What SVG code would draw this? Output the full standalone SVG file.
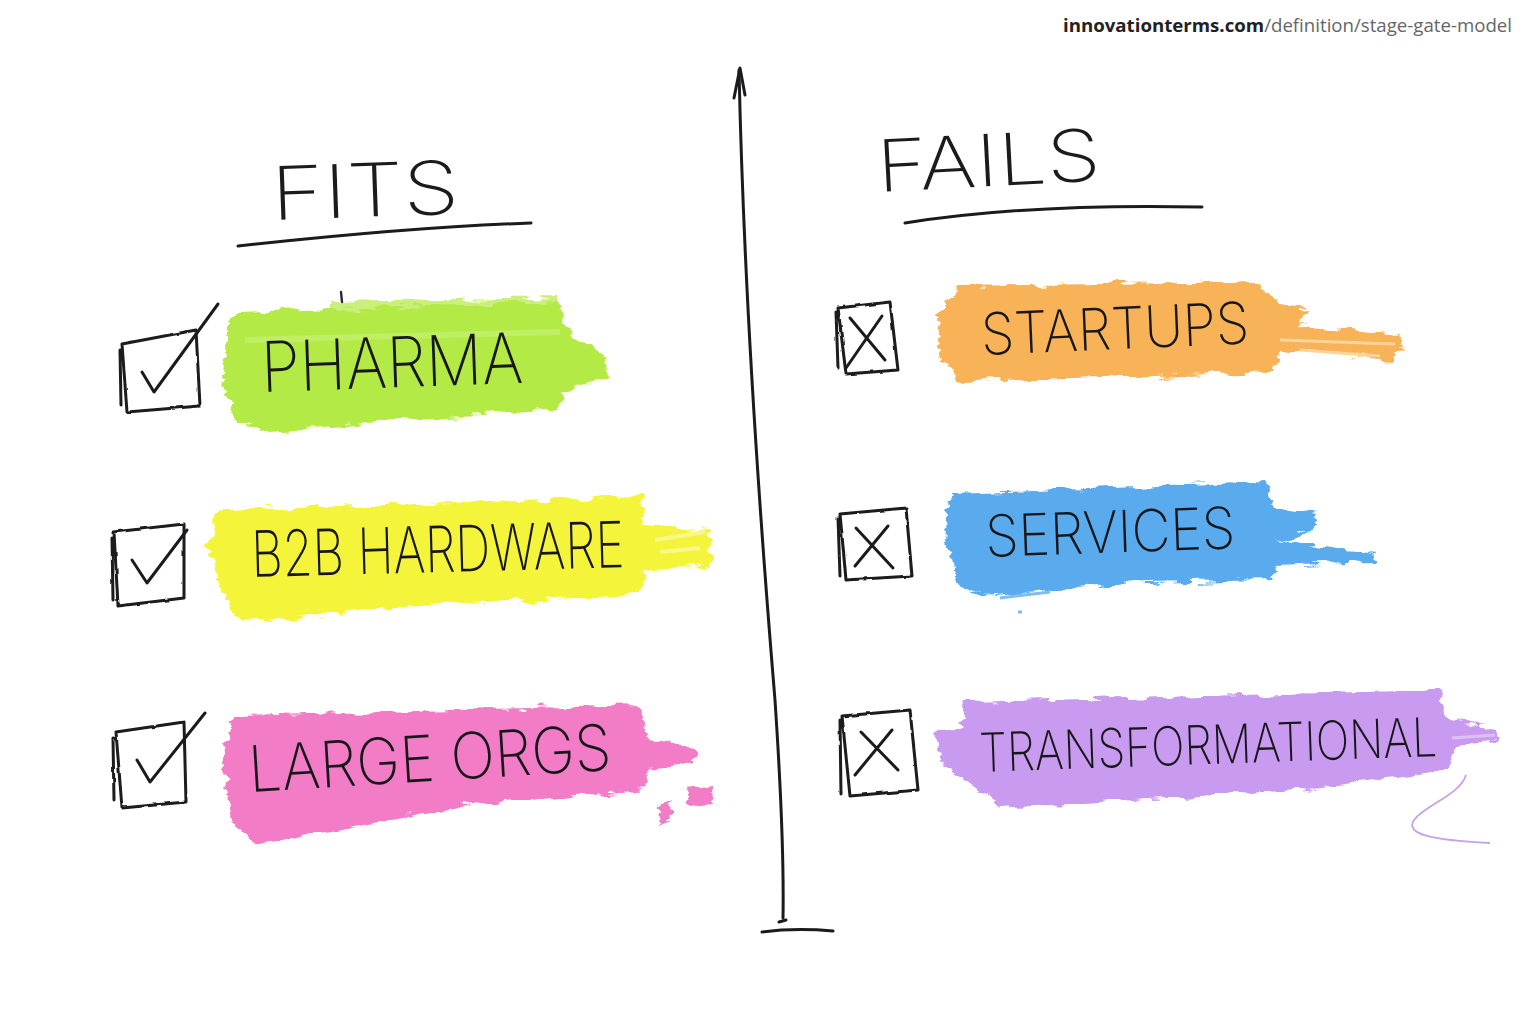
<svg xmlns="http://www.w3.org/2000/svg" width="1536" height="1024" viewBox="0 0 1536 1024">
<defs>
<filter id="rough" x="-10%" y="-20%" width="120%" height="140%">
<feTurbulence type="fractalNoise" baseFrequency="0.04 0.12" numOctaves="3" seed="4" result="n"/>
<feDisplacementMap in="SourceGraphic" in2="n" scale="14" xChannelSelector="R" yChannelSelector="G"/>
</filter>
<filter id="pen" x="-5%" y="-5%" width="110%" height="110%">
<feTurbulence type="fractalNoise" baseFrequency="0.08" numOctaves="2" seed="2" result="n"/>
<feDisplacementMap in="SourceGraphic" in2="n" scale="2.5" xChannelSelector="R" yChannelSelector="G"/>
</filter>
</defs>
<style>
.ink{fill:none;stroke:#1b1b1e;stroke-width:3;stroke-linecap:round;stroke-linejoin:round}
.thin{fill:none;stroke:#2a2a2e;stroke-width:2.4;stroke-linecap:round;stroke-linejoin:round}
.lbl{font-family:Inter,"Open Sans","DejaVu Sans",sans-serif;font-weight:200;fill:#17171a}
.head{font-family:Inter,"Open Sans","DejaVu Sans",sans-serif;font-weight:200;fill:#1b1b1e}
</style>
<rect width="1536" height="1024" fill="#ffffff"/>

<text x="1063" y="32" textLength="449" lengthAdjust="spacingAndGlyphs" font-family="'Open Sans','Noto Sans',sans-serif" font-size="18"><tspan font-weight="700" fill="#222">innovationterms.com</tspan><tspan fill="#666">/definition/stage-gate-model</tspan></text>

<g id="divider">
<path class="ink" d="M739 70 C744 300 760 520 775 700 C781 790 784 860 783 918" stroke-width="2.4"/>
<path class="ink" d="M734 98 L740 68 L745 95" stroke-width="2.2"/>
<path class="ink" d="M762 932 C785 929 810 929 833 931" stroke-width="2.4"/>
<path class="ink" d="M779 922 L786 920" stroke-width="2"/>
</g>

<g id="fits-heading">
<text class="head" x="272" y="220" font-size="74" textLength="188" lengthAdjust="spacingAndGlyphs" transform="rotate(-2 272 220)">FITS</text>
<path class="ink" d="M238 246 C330 236 440 226 531 223" stroke-width="3"/>
</g>

<g id="fails-heading">
<text class="head" x="878" y="192" font-size="72" textLength="224" lengthAdjust="spacingAndGlyphs" transform="rotate(-3 878 192)">FAILS</text>
<path class="ink" d="M905 223 C1000 208 1110 205 1202 207" stroke-width="3"/>
</g>

<g id="pharma">
<g filter="url(#rough)" fill="#b3ea45">
<path d="M236 312 L560 302 L566 330 L608 360 L610 378 L565 390 L560 410 L400 420 L270 432 L236 420 L222 380 L228 330 Z"/>
<path d="M330 302 L560 298 L562 312 L330 316 Z" opacity="0.7"/>
</g>
<path d="M245 340 L560 332" stroke="#c9f27a" stroke-width="6" opacity="0.6"/>
<path class="thin" d="M341 292 L342 302" stroke-width="1.5"/>
<path class="ink" d="M122 344 L196 330 L200 406 L127 412 Z M120 350 L121 405" filter="url(#pen)"/>
<path class="ink" d="M142 372 L154 392 L218 304" stroke-width="3.2"/>
<text class="lbl" x="262" y="392" font-size="70" textLength="262" lengthAdjust="spacingAndGlyphs" transform="rotate(-2 262 392)">PHARMA</text>
</g>

<g id="b2b-hardware">
<g filter="url(#rough)" fill="#f4f53a">
<path d="M228 510 L640 497 L645 525 L708 530 L712 565 L645 572 L640 595 L420 605 L245 622 L225 600 L208 545 L218 515 Z"/>
</g>
<path d="M655 540 L705 532 M660 552 L700 548" stroke="#f8f88a" stroke-width="4"/>
<path class="ink" d="M114 532 L184 524 L184 598 L118 606 Z M112 538 L113 600" filter="url(#pen)"/>
<path class="ink" d="M132 560 L147 583 L187 530" stroke-width="3.2"/>
<text class="lbl" x="252" y="577" font-size="64" textLength="373" lengthAdjust="spacingAndGlyphs" transform="rotate(-1.5 252 577)">B2B  HARDWARE</text>
</g>

<g id="large-orgs">
<g filter="url(#rough)" fill="#f37cc6">
<path d="M238 716 L640 705 L648 740 L695 748 L695 762 L648 768 L645 790 L470 805 L255 845 L232 820 L222 760 L230 730 Z"/>
<path d="M684 790 L715 786 L716 804 L690 808 Z"/>
<path d="M660 808 L672 800 L670 822 L659 826 Z"/>
</g>
<path class="ink" d="M116 732 L184 722 L186 802 L122 808 Z M113 738 L114 800" filter="url(#pen)"/>
<path class="ink" d="M137 760 L150 782 L205 713" stroke-width="3.2"/>
<text class="lbl" x="250" y="792" font-size="64" textLength="363" lengthAdjust="spacingAndGlyphs" transform="rotate(-3.5 250 792)">LARGE  ORGS</text>
</g>

<g id="startups">
<g filter="url(#rough)" fill="#f8b358">
<path d="M958 286 L1260 282 L1280 305 L1308 308 L1300 325 L1400 335 L1405 345 L1390 360 L1280 350 L1272 372 L1100 378 L965 382 L942 360 L936 318 Z"/>
</g>
<path d="M1280 340 L1395 344 M1300 350 L1380 356" stroke="#fbd39c" stroke-width="3"/>
<path class="ink" d="M838 308 L890 302 L898 370 L846 374 Z M836 312 L838 368" filter="url(#pen)"/>
<path class="ink" d="M850 318 L885 360 M882 316 L846 368" stroke-width="2.8"/>
<text class="lbl" x="982" y="355" font-size="58" textLength="268" lengthAdjust="spacingAndGlyphs" transform="rotate(-2.5 982 355)">STARTUPS</text>
</g>

<g id="services">
<g filter="url(#rough)" fill="#5aaaee">
<path d="M955 494 L1265 482 L1275 510 L1318 515 L1312 530 L1276 540 L1375 555 L1372 562 L1276 566 L1270 580 L1110 584 L985 596 L960 585 L945 540 L948 505 Z"/>
</g>
<path d="M1000 598 L1050 592 M1018 612 L1022 612" stroke="#7fbcf0" stroke-width="3"/>
<path class="ink" d="M840 514 L906 508 L912 576 L846 580 Z M838 518 L840 576" filter="url(#pen)"/>
<path class="ink" d="M856 528 L893 568 M888 526 L855 566" stroke-width="2.8"/>
<text class="lbl" x="986" y="557" font-size="58" textLength="250" lengthAdjust="spacingAndGlyphs" transform="rotate(-2 986 557)">SERVICES</text>
</g>

<g id="transformational">
<g filter="url(#rough)" fill="#c99bf0">
<path d="M965 702 L1440 690 L1448 722 L1495 728 L1497 742 L1455 748 L1448 770 L1300 790 L1000 808 L965 780 L938 760 L936 730 L960 725 Z"/>
</g>
<path d="M1452 738 L1495 735" stroke="#ddc1f6" stroke-width="3"/>
<path d="M1466 775 C1460 795 1425 805 1414 820 C1405 834 1430 840 1490 843" fill="none" stroke="#c4a2e6" stroke-width="1.8"/>
<path class="ink" d="M842 716 L910 710 L918 790 L850 796 Z M840 720 L841 794" filter="url(#pen)"/>
<path class="ink" d="M861 732 L898 770 M892 730 L855 775" stroke-width="2.8"/>
<text class="lbl" x="980" y="772" font-size="54" textLength="458" lengthAdjust="spacingAndGlyphs" transform="rotate(-2 980 772)">TRANSFORMATIONAL</text>
</g>
</svg>
